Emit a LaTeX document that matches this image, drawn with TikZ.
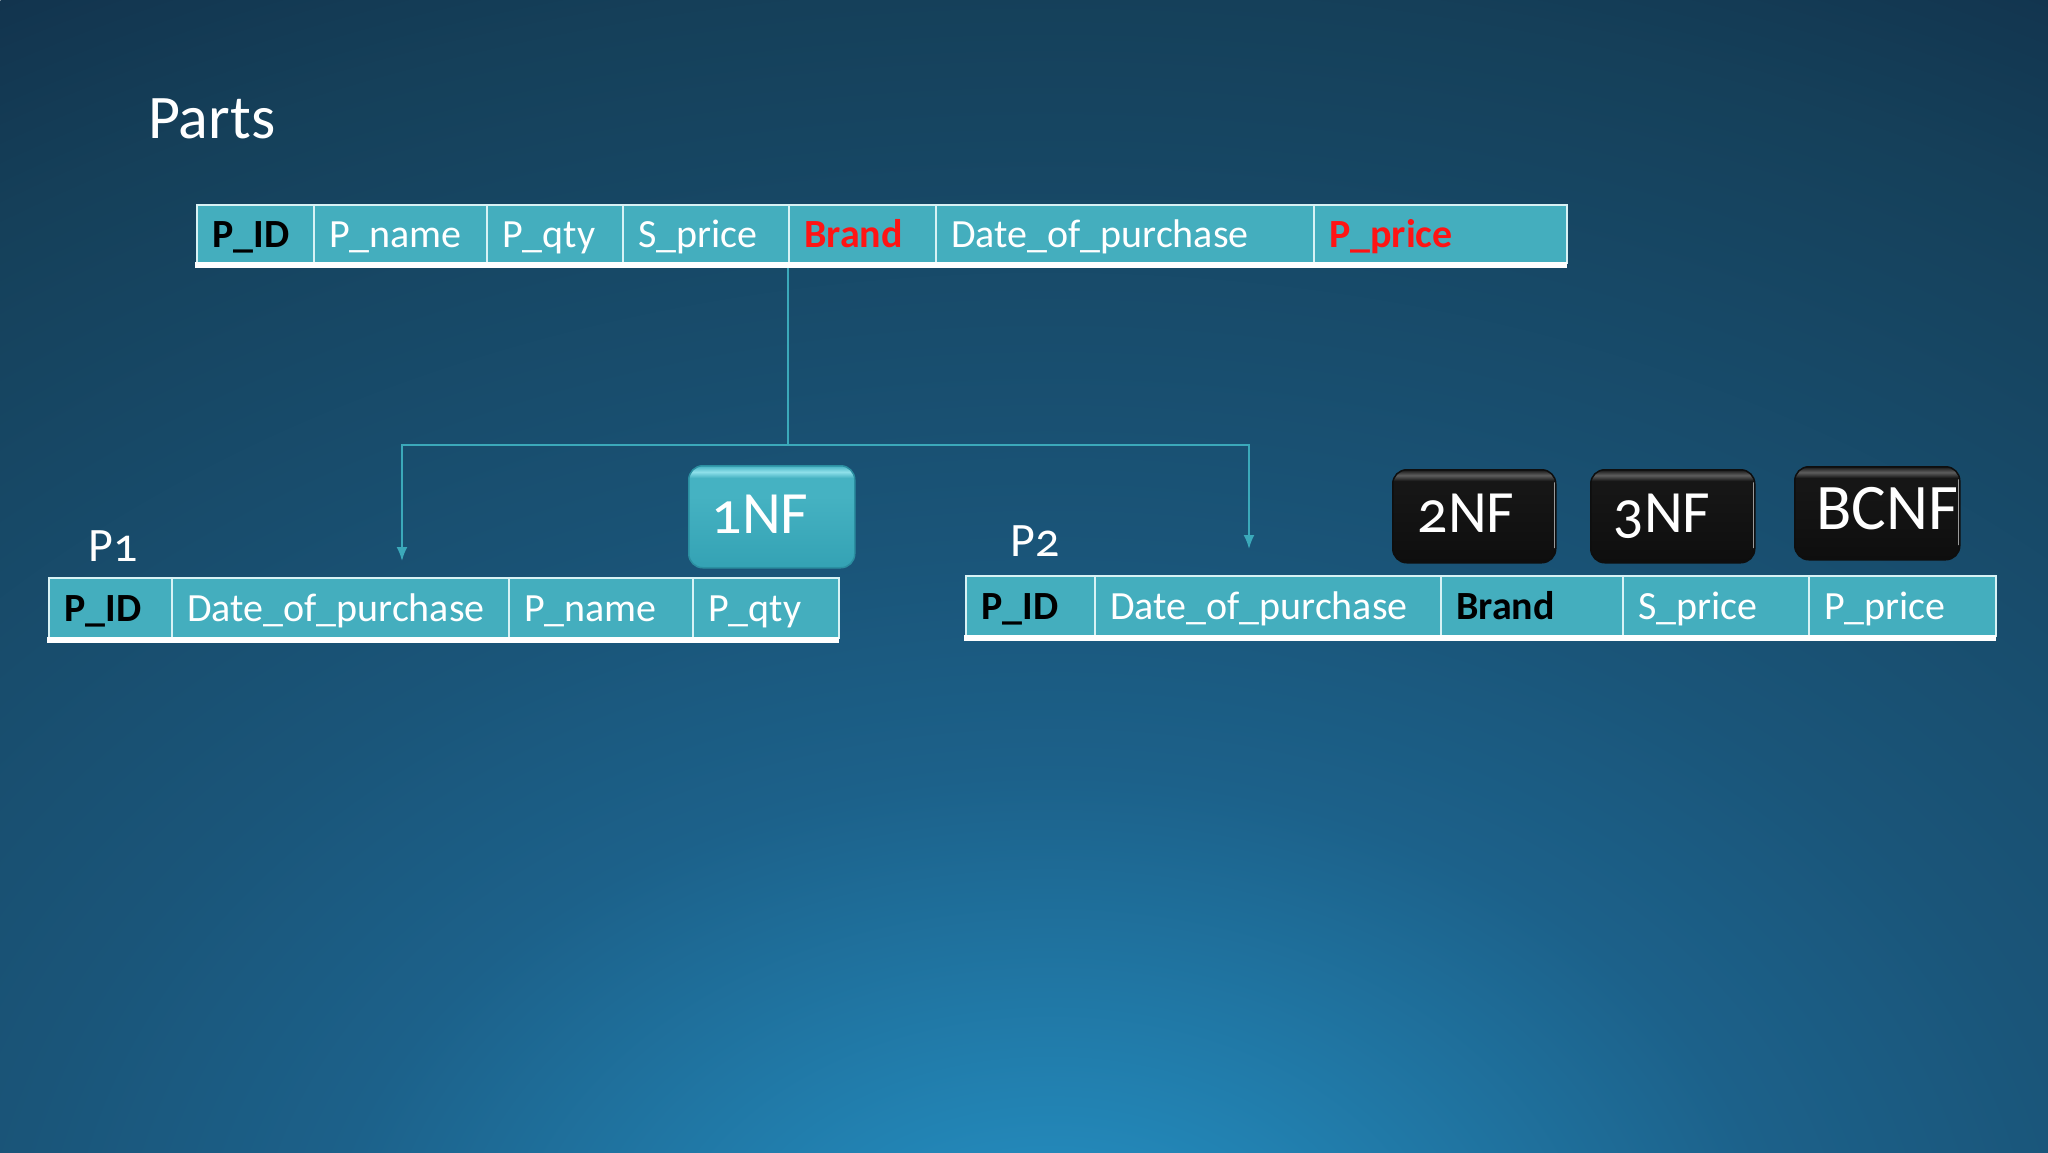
\documentclass[tikz,border=0pt]{standalone}
\usepackage{fontspec}
\setmainfont{Carlito}[Numbers=OldStyle]
\usetikzlibrary{arrows.meta}
\definecolor{cellfill}{HTML}{44AEBE}
\definecolor{cellline}{HTML}{D8F2F5}
\definecolor{connc}{HTML}{3BA9BA}
\definecolor{redtxt}{HTML}{FF1414}
\definecolor{bg0}{HTML}{258FC0}
\definecolor{bg1}{HTML}{2387B8}
\definecolor{bg2}{HTML}{1C618A}
\definecolor{bg3}{HTML}{1A5579}
\definecolor{bg4}{HTML}{15405A}
\definecolor{bg5}{HTML}{12344E}
\definecolor{tealB}{HTML}{34A2B4}
\definecolor{tealM}{HTML}{45B2C2}
\definecolor{tealL}{HTML}{8FE0EA}
\definecolor{tealE}{HTML}{2B8FA1}
\definecolor{blkB}{HTML}{0E0E0E}
\definecolor{blkM}{HTML}{161616}
\definecolor{blkL}{HTML}{5E5E5E}
\definecolor{blkE}{HTML}{9A9A9A}
\pgfdeclareradialshading{bgshade}{\pgfpoint{0bp}{0bp}}{color(0bp)=(bg0); color(2.5bp)=(bg1); color(8.75bp)=(bg2); color(12.5bp)=(bg3); color(21.75bp)=(bg4); color(25bp)=(bg5); color(50bp)=(bg5)}
\pgfdeclareverticalshading{tealbtn}{100bp}{color(0bp)=(tealB); color(25bp)=(tealB); color(60bp)=(tealM); color(69bp)=(tealM); color(72bp)=(tealL); color(75bp)=(tealM); color(100bp)=(tealM)}
\pgfdeclareverticalshading{blkbtn}{100bp}{color(0bp)=(blkB); color(25bp)=(blkB); color(64bp)=(blkM); color(69bp)=(blkM); color(72bp)=(blkL); color(75bp)=(blkM); color(100bp)=(blkM)}
\newcommand\tcell[8]{%
  \node[cell, minimum width=#4pt, minimum height=#5pt, anchor=north west] (#1) at (#2,#3) {};
  \node[lbl, text=#6, font=\fontsize{40}{46}\selectfont#7, anchor=west] (#1t) at ([xshift=16pt]#1.west) {#8};}
\begin{document}
\begin{tikzpicture}[x=1pt,y=-1pt,
  cell/.style={draw=cellline, line width=2pt, fill=cellfill, inner sep=0pt},
  lbl/.style={inner sep=0pt, text height=26pt, text depth=0pt},
  tbar/.style={fill=white, draw=none, inner sep=0pt, anchor=north west},
  conn/.style={draw=connc, line width=2pt},
  tip/.style={-{Latex[length=14pt,width=11pt]}},
  heading/.style={text=white, inner sep=0pt, anchor=base west},
  btnt/.style={text=white, inner sep=0pt, font=\fontsize{60}{66}\selectfont, text height=39pt, text depth=0pt},
  tealbutton/.style={shade, shading=tealbtn, rounded corners=14pt, draw=tealE, line width=1.5pt, inner sep=0pt, anchor=north west},
  blackbutton/.style={shade, shading=blkbtn, rounded corners=14pt, draw=blkB, line width=1.5pt, inner sep=0pt, anchor=north west},
  rim/.style={draw=blkE, line width=1.8pt, line cap=round}]
\useasboundingbox (0,0) rectangle (2048,1152);
\begin{scope}
  \clip (0,0) rectangle (2048,1152);
  \shade[shading=bgshade] (1050,1300) ellipse [x radius=2100pt, y radius=1500pt];
\end{scope}

% title
\node[heading, font=\fontsize{62}{70}\selectfont] (title) at (148,138) {Parts};

% top table
\tcell{tid}{196}{204}{117}{58}{black}{\bfseries}{P\_ID}
\tcell{tname}{313}{204}{173}{58}{white}{}{P\_name}
\tcell{tqty}{486}{204}{136}{58}{white}{}{P\_qty}
\tcell{tsp}{622}{204}{166}{58}{white}{}{S\_price}
\tcell{tbrand}{788}{204}{147}{58}{redtxt}{\bfseries}{Brand}
\tcell{tdate}{935}{204}{378}{58}{white}{}{Date\_of\_purchase}
\tcell{tpp}{1313}{204}{253}{58}{redtxt}{\bfseries}{P\_price}
\node[tbar, minimum width=1372pt, minimum height=6pt] (tb) at (195,262) {};

% P1
\node[heading, font=\fontsize{48}{54}\selectfont] (p1) at (88,561) {P1};
\tcell{aid}{48}{577}{123}{60}{black}{\bfseries}{P\_ID}
\tcell{adate}{171}{577}{337}{60}{white}{}{Date\_of\_purchase}
\tcell{aname}{508}{577}{184}{60}{white}{}{P\_name}
\tcell{aqty}{692}{577}{146}{60}{white}{}{P\_qty}
\node[tbar, minimum width=792pt, minimum height=6pt] (ab) at (47,637) {};

% P2
\node[heading, font=\fontsize{48}{54}\selectfont] (p2) at (1010,556) {P2};
\tcell{bid}{965}{575}{129}{60}{black}{\bfseries}{P\_ID}
\tcell{bdate}{1094}{575}{346}{60}{white}{}{Date\_of\_purchase}
\tcell{bbrand}{1440}{575}{182}{60}{black}{\bfseries}{Brand}
\tcell{bsp}{1622}{575}{186}{60}{white}{}{S\_price}
\tcell{bpp}{1808}{575}{187}{60}{white}{}{P\_price}
\node[tbar, minimum width=1032pt, minimum height=6pt] (bb) at (964,635) {};

% buttons
\node[tealbutton, minimum width=166pt, minimum height=102pt] (nf1) at (688,465) {};
\node[btnt] (nf1t) at (760,514) {1NF};
\node[blackbutton, minimum width=163pt, minimum height=93pt] (nf2) at (1392,469) {};
\draw[rim] ([xshift=-2pt,yshift=-14pt]nf2.north east) -- ([xshift=-2pt,yshift=16pt]nf2.south east);
\node[btnt] (nf2t) at (1466,513) {2NF};
\node[blackbutton, minimum width=164pt, minimum height=93pt] (nf3) at (1590,469) {};
\draw[rim] ([xshift=-2pt,yshift=-14pt]nf3.north east) -- ([xshift=-2pt,yshift=16pt]nf3.south east);
\node[btnt] (nf3t) at (1662,513) {3NF};
\node[blackbutton, minimum width=165pt, minimum height=93pt] (bcnf) at (1794,466) {};
\draw[rim] ([xshift=-2pt,yshift=-14pt]bcnf.north east) -- ([xshift=-2pt,yshift=16pt]bcnf.south east);
\node[btnt, font=\fontsize{65}{70}\selectfont, text height=42pt, anchor=west] (bcnft) at (1816,508) {BCNF};

% connectors
\coordinate (j) at (788,445);
\coordinate (a1) at (402,561);
\coordinate (a2) at (1249,549);
\draw[conn] (tb.south west -| tbrand.south west) -- (j);
\draw[conn, tip] (j) -| (a1);
\draw[conn, tip] (j) -| (a2);
\end{tikzpicture}
\end{document}
